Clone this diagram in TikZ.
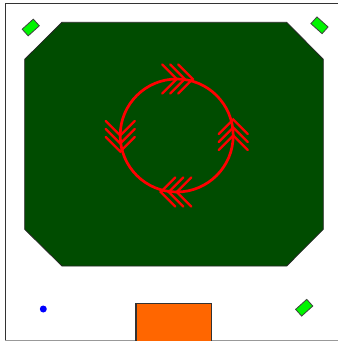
\documentclass[tikz,border=0pt]{standalone}
\definecolor{boardgreen}{RGB}{0,76,0}
\definecolor{limeg}{RGB}{0,245,0}
\definecolor{orangeb}{RGB}{255,102,0}
\begin{document}
\begin{tikzpicture}[x=1pt,y=-1pt,
  diam/.style={draw=black!75, fill=limeg, line width=0.8pt, minimum width=15pt, minimum height=9pt, inner sep=0pt, outer sep=0pt},
  chev/.style={draw=red, line width=2.3pt, line cap=round, line join=miter},
  ring/.style={draw=red, line width=2.7pt},
  framel/.style={draw=black!80, line width=1.2pt}]
\useasboundingbox (0,0) rectangle (338,341);
\clip (0,0) rectangle (338,341);
\fill[white] (0,0) rectangle (338,341);
% frame
\draw[framel] (5.3,345) -- (5.3,3.3) -- (340,3.3);
\draw[draw=black!40, line width=1.2pt] (5.3,340.3) -- (340,340.3);
% board
\draw[fill=boardgreen, draw=black!85, line width=0.8pt]
  (62,22.3) -- (286.7,22.3) -- (323.3,59.3) -- (323.3,229.3) -- (286.7,266) -- (62,266) -- (24.7,229.3) -- (24.7,59.3) -- cycle;
% diamonds
\node[diam, rotate=42] (d1) at (30.75,27.5) {};
\node[diam, rotate=-42] (d2) at (319.5,25.3) {};
\node[diam, rotate=42] (d3) at (304.2,307.7) {};
% blue dot
\fill[blue] (43.3,309) circle (3.5);
% orange box
\draw[fill=orangeb, draw=black!80, line width=1.2pt] (136,303.3) rectangle (211.7,350);
% circle with chevrons
\begin{scope}[shift={(176.7,135.5)}, y=1pt]
  \draw[ring] (0,0) circle (56.5);
  \foreach \th/\ph in {90/0, 0/90, 270/180, 180/270} {
    \begin{scope}[shift={(\th:56.5)}, rotate=\ph]
      \foreach \k in {0,1,2} {
        \draw[chev] (\k*8-14.5,14.5) -- (\k*8,0) -- (\k*8-14.5,-14.5);
      }
    \end{scope}
  }
\end{scope}
\end{tikzpicture}
\end{document}
